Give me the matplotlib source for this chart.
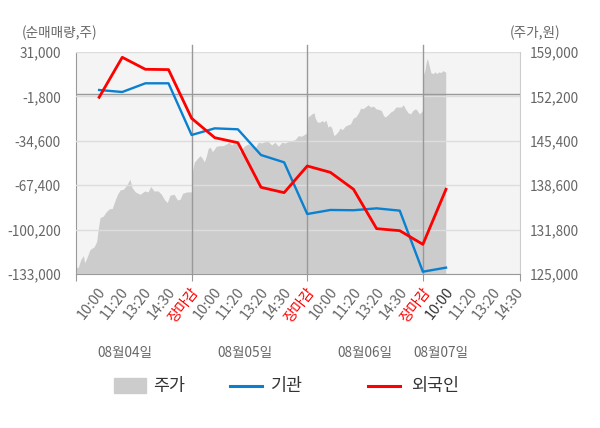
import numpy as np
import matplotlib
matplotlib.use('Agg')
import matplotlib.pyplot as plt
from matplotlib.patches import Rectangle
from matplotlib.lines import Line2D
import matplotlib.transforms as mtransforms

plt.rcParams['font.family'] = ['Noto Sans CJK KR', 'DejaVu Sans']

# ---------------- data ----------------
x_labels = ['10:00', '11:20', '13:20', '14:30', '장마감',
            '10:00', '11:20', '13:20', '14:30', '장마감',
            '10:00', '11:20', '13:20', '14:30', '장마감',
            '10:00', '11:20', '13:20', '14:30']
dates = ['08월04일', '08월05일', '08월06일', '08월07일']

# net buying (shares), points at category positions 1..16
inst = [2930, 1450, 7880, 7880, -30300, -25400, -26100, -45100, -50500,
        -88700, -85700, -85900, -84500, -86200, -131300, -128300]
foreign = [-2470, 27080, 18220, 18000, -17980, -32300, -36000, -68950, -72900,
           -53200, -57900, -70400, -99500, -101000, -111100, -70400]

# intraday price: minutes since open (session = 390 min) and price (won)
d1_min = [0, 7, 16, 25, 29, 38, 47, 61, 70, 74, 81, 92, 101, 113, 122, 131, 140,
          149, 160, 171, 182, 189, 200, 216, 232, 243, 252, 263, 277, 288, 299,
          308, 317, 331, 342, 351, 360, 374, 383, 390]
d1_price = [126170, 125930, 127200, 127820, 126700, 127620, 128740, 129160, 130020,
            131560, 133630, 133870, 134490, 135010, 135010, 136180, 137210, 137880,
            137980, 138600, 139520, 138250, 137570, 137210, 137720, 137570, 138400,
            137720, 137720, 137210, 136340, 135940, 137060, 137210, 136340, 136440,
            137370, 137570, 137570, 137570]
d2_min = [2, 9, 16, 23, 29, 36, 43, 50, 56, 63, 70, 77, 83, 95, 106, 117, 126, 135,
          144, 153, 162, 171, 180, 191, 203, 214, 225, 236, 248, 259, 270, 281, 293,
          304, 315, 326, 338, 349, 360, 371, 383, 390]
d2_price = [140560, 142100, 142500, 142870, 143110, 142710, 142190, 143110, 144250,
            144410, 143730, 144140, 144560, 144650, 144650, 144910, 145180, 144760,
            145070, 145070, 143640, 144250, 144650, 144910, 144560, 144250, 145180,
            145070, 145270, 145270, 144760, 145180, 144560, 145180, 145070, 145270,
            145420, 145580, 146190, 146100, 146450, 146610]
d3_min = [2, 9, 16, 23, 27, 34, 43, 50, 56, 63, 70, 77, 83, 90, 97, 104, 110, 119,
          128, 137, 146, 155, 164, 173, 180, 187, 196, 205, 214, 223, 232, 241, 250,
          257, 263, 272, 281, 290, 299, 308, 317, 324, 331, 340, 349, 356, 365, 371,
          378, 387, 390]
d3_price = [149030, 149270, 149530, 149690, 148870, 148260, 148260, 148500, 148260,
            148560, 147490, 147730, 147330, 146190, 146450, 146810, 147330, 147120,
            147640, 147840, 147990, 148870, 149070, 149690, 150410, 150300, 150570,
            150920, 150570, 150720, 150300, 150200, 150040, 149270, 149030, 149380,
            149800, 150040, 150570, 150570, 150570, 150920, 150300, 149690, 149530,
            150040, 150300, 150040, 149530, 149890, 150300]
d4_min = [2, 7, 11, 15, 18, 23, 27, 34, 41, 47, 54, 61, 68, 74, 77]
d4_price = [155540, 156200, 157390, 158000, 157490, 156570, 155850, 155690, 155960,
            155690, 155960, 155850, 156160, 155960, 155960]

left_ticks = [31000, -1800, -34600, -67400, -100200, -133000]
right_ticks = [159000, 152200, 145400, 138600, 131800, 125000]

# ---------------- styling / layout ----------------
W, H = 600, 428
L, R, T, B = 76, 520, 52, 274
GREY_TXT = '#666666'
BLUE = '#0a80d0'
RED = '#ff0000'
FS = 9.8
XFS = 10.4

fig = plt.figure(figsize=(W / 100, H / 100), dpi=100)
ax = fig.add_axes([L / W, 1 - B / H, (R - L) / W, (B - T) / H])
ax.set_facecolor('#f4f4f4')
ax2 = ax.twinx()

SESSION = 390.0
DAY = 5
px, py = [], []
for d, (mins, pr) in enumerate([(d1_min, d1_price), (d2_min, d2_price),
                                 (d3_min, d3_price), (d4_min, d4_price)]):
    px.extend([d * DAY + m / SESSION * DAY for m in mins])
    py.extend(pr)
ax.fill_between(px, 125000, py, color='#cccccc', lw=0)
ax.set_ylim(125000, 159000)
ax.set_xlim(0, 19.2)
ax.set_yticks(right_ticks)
ax.set_yticklabels([f'{v:,}' for v in right_ticks])
ax.yaxis.tick_right()
ax.tick_params(axis='y', length=0, pad=7, labelsize=FS, labelcolor=GREY_TXT)

ax.spines['top'].set_visible(False)
ax.spines['left'].set_color('#999999')
ax.spines['bottom'].set_color('#999999')
ax.spines['right'].set_color('#cccccc')
for s in ax2.spines.values():
    s.set_visible(False)

# x ticks: only boundary marks; labels drawn as rotated texts
ax.set_xticks([0, 5, 10, 15, 19.2])
ax.set_xticklabels([])
ax.tick_params(axis='x', length=5, color='#999999')
base = mtransforms.blended_transform_factory(ax.transData, ax.transAxes)
for i, lab in enumerate(x_labels):
    if lab == '장마감':
        c = RED
    elif i == 15:
        c = '#333333'
    else:
        c = GREY_TXT
    off = mtransforms.ScaledTranslation((-2 + 0.12 * i) / 100, -11 / 100,
                                        fig.dpi_scale_trans)
    ax.text(i + 1, 0, lab, transform=base + off, rotation=52,
            rotation_mode='anchor', ha='right', va='top', color=c, fontsize=XFS)

# line axis
ax2.set_ylim(-133000, 31000)
ax2.set_yticks(left_ticks)
ax2.set_yticklabels([f'{v:,}' for v in left_ticks])
ax2.yaxis.tick_left()
ax2.tick_params(axis='y', length=0, pad=11, labelsize=FS, labelcolor=GREY_TXT)
ax2.grid(axis='y', color='#dddddd', lw=1)
for b in [5, 10, 15]:
    ax2.axvline(b, color='#999999', lw=1, ymax=1 + 7 / (B - T), clip_on=False)
ax2.axhline(0, color='#999999', lw=1)

idx = np.arange(1, len(inst) + 1)
ax2.plot(idx, inst, color=BLUE, lw=1.7)
ax2.plot(idx, foreign, color=RED, lw=2.0)

# axis titles
fig.text(22 / W, 1 - 33 / H, '(순매매량,주)', ha='left', va='center',
         color=GREY_TXT, fontsize=FS)
fig.text(510 / W, 1 - 33 / H, '(주가,원)', ha='left', va='center',
         color=GREY_TXT, fontsize=FS)

# date labels
for cx, dt in zip([124.5, 245, 365, 441], dates):
    fig.text(cx / W, 1 - 353 / H, dt, ha='center', va='center',
             color=GREY_TXT, fontsize=FS)

# legend
ly = 1 - 386 / H
fig.patches.append(Rectangle((114 / W, 1 - 393 / H), 32 / W, 15 / H,
                             transform=fig.transFigure, color='#cccccc'))
fig.text(153 / W, ly, '주가', ha='left', va='center', color='#333333', fontsize=12.5)
fig.add_artist(Line2D([230 / W, 262 / W], [ly, ly], transform=fig.transFigure,
                      color=BLUE, lw=2.2))
fig.text(271 / W, ly, '기관', ha='left', va='center', color='#333333', fontsize=12.5)
fig.add_artist(Line2D([368 / W, 400 / W], [ly, ly], transform=fig.transFigure,
                      color=RED, lw=2.2))
fig.text(411 / W, ly, '외국인', ha='left', va='center', color='#333333', fontsize=12.5)

fig.savefig('out.png', dpi=100)
